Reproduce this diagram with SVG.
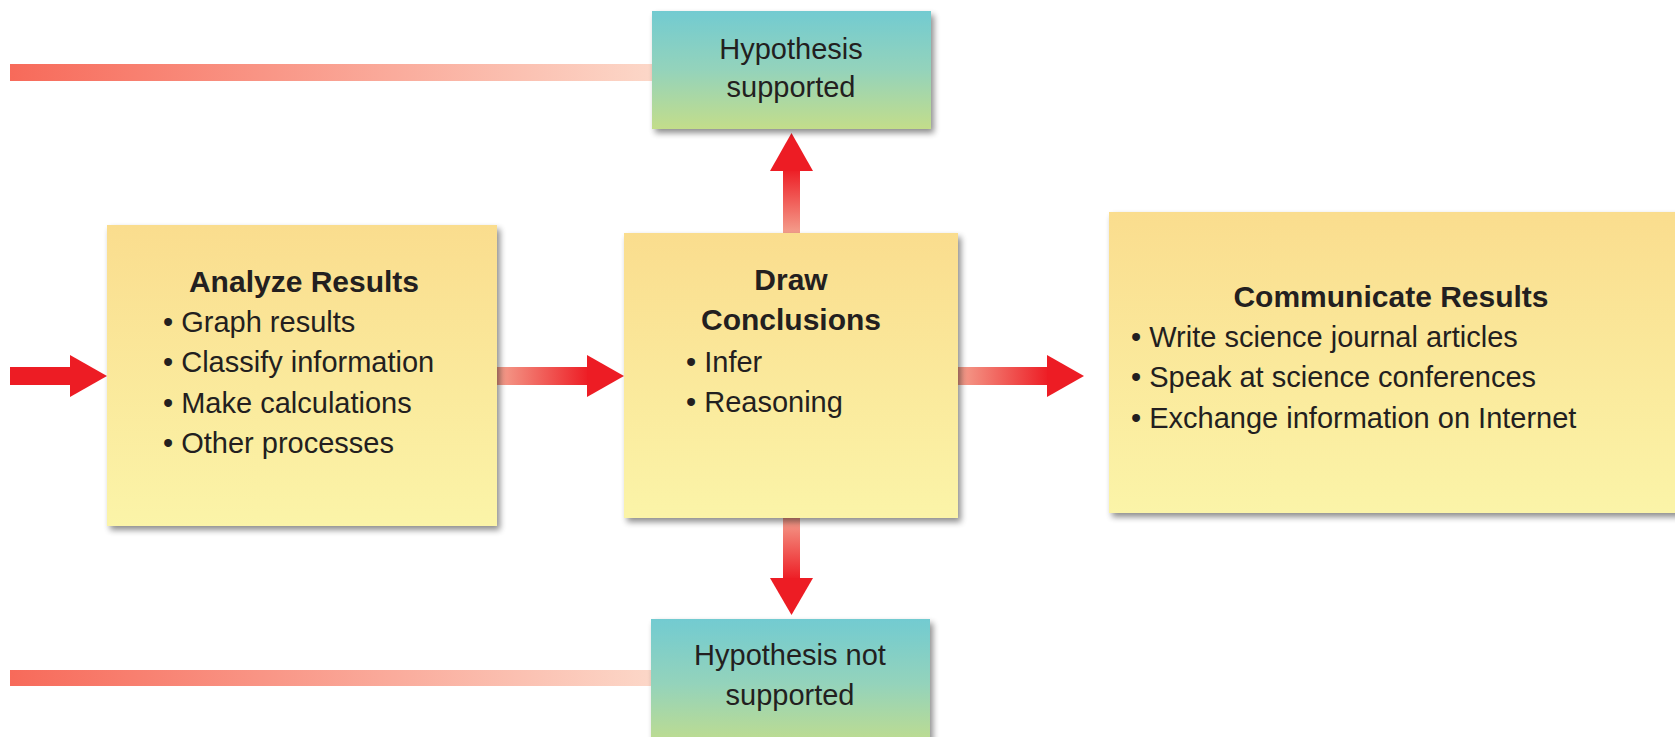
<svg xmlns="http://www.w3.org/2000/svg" width="1675" height="737" viewBox="0 0 1675 737">
<defs>
<linearGradient id="yel" x1="0" y1="0" x2="0" y2="1">
<stop offset="0" stop-color="#fadd8e"/>
<stop offset="1" stop-color="#fbf4a8"/>
</linearGradient>
<linearGradient id="teal" x1="0" y1="0" x2="0" y2="1">
<stop offset="0" stop-color="#72cbd1"/>
<stop offset="0.5" stop-color="#94d3bb"/>
<stop offset="1" stop-color="#c3dd8a"/>
</linearGradient>
<linearGradient id="lineG" x1="0" y1="0" x2="1" y2="0">
<stop offset="0" stop-color="#f76a5a"/>
<stop offset="1" stop-color="#fcd7c8"/>
</linearGradient>
<linearGradient id="shaftH" x1="0" y1="0" x2="1" y2="0">
<stop offset="0" stop-color="#f4a08e"/>
<stop offset="1" stop-color="#ed1c24"/>
</linearGradient>
<linearGradient id="shaftUp" x1="0" y1="1" x2="0" y2="0">
<stop offset="0" stop-color="#f4a08e"/>
<stop offset="1" stop-color="#ed1c24"/>
</linearGradient>
<linearGradient id="shaftDown" x1="0" y1="0" x2="0" y2="1">
<stop offset="0" stop-color="#f4a08e"/>
<stop offset="1" stop-color="#ed1c24"/>
</linearGradient>
<filter id="sh" x="-10%" y="-10%" width="125%" height="125%">
<feGaussianBlur in="SourceAlpha" stdDeviation="3"/>
<feOffset dx="3" dy="4" result="b"/>
<feComponentTransfer><feFuncA type="linear" slope="0.45"/></feComponentTransfer>
<feMerge><feMergeNode/><feMergeNode in="SourceGraphic"/></feMerge>
</filter>
</defs>
<style>
text{font-family:"Liberation Sans",Arial,sans-serif;fill:#231f20;font-size:29px}
.b{font-weight:bold;font-size:30px}
.c{text-anchor:middle}
.head{fill:#ed1c24}
</style>
<rect width="1675" height="737" fill="#ffffff"/>
<g id="connectors">
<rect x="10" y="64" width="642" height="17" fill="url(#lineG)"/>
<rect x="10" y="670" width="642" height="16" fill="url(#lineG)"/>
<rect x="10" y="367" width="62" height="18" fill="#ed1c24"/>
<polygon class="head" points="70,355 107,376 70,397"/>
<rect x="497" y="367" width="92" height="18" fill="url(#shaftH)"/>
<polygon class="head" points="587,355 624,376 587,397"/>
<rect x="958" y="367" width="91" height="18" fill="url(#shaftH)"/>
<polygon class="head" points="1047,355 1084,376 1047,397"/>
<rect x="783" y="169" width="17" height="65" fill="url(#shaftUp)"/>
<polygon class="head" points="770,171 791.5,133 813,171"/>
<rect x="783" y="517" width="17" height="63" fill="url(#shaftDown)"/>
<polygon class="head" points="770,578 791.5,615 813,578"/>
</g>
<g id="hyp-supported">
<rect x="652" y="11" width="279" height="118" fill="url(#teal)" filter="url(#sh)"/>
<text class="c" x="791" y="59">Hypothesis</text>
<text class="c" x="791" y="97">supported</text>
</g>
<g id="analyze">
<rect x="107" y="225" width="390" height="301" fill="url(#yel)" filter="url(#sh)"/>
<text class="b c" x="304" y="292">Analyze Results</text>
<text x="163" y="332">• Graph results</text>
<text x="163" y="372">• Classify information</text>
<text x="163" y="413">• Make calculations</text>
<text x="163" y="453">• Other processes</text>
</g>
<g id="draw">
<rect x="624" y="233" width="334" height="285" fill="url(#yel)" filter="url(#sh)"/>
<text class="b c" x="791" y="290">Draw</text>
<text class="b c" x="791" y="330">Conclusions</text>
<text x="686" y="372">• Infer</text>
<text x="686" y="412">• Reasoning</text>
</g>
<g id="communicate">
<rect x="1109" y="212" width="580" height="301" fill="url(#yel)" filter="url(#sh)"/>
<text class="b c" x="1391" y="307">Communicate Results</text>
<text x="1131" y="347">• Write science journal articles</text>
<text x="1131" y="387">• Speak at science conferences</text>
<text x="1131" y="428">• Exchange information on Internet</text>
</g>
<g id="hyp-not-supported">
<rect x="651" y="619" width="279" height="130" fill="url(#teal)" filter="url(#sh)"/>
<text class="c" x="790" y="665">Hypothesis not</text>
<text class="c" x="790" y="705">supported</text>
</g>
</svg>
